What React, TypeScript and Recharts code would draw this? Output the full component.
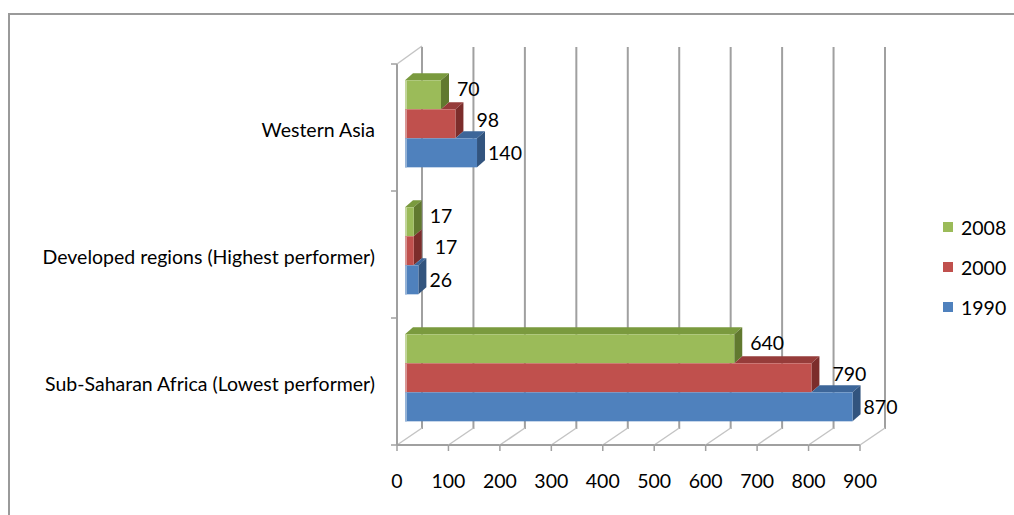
import React from 'react';
import { BarChart, Bar, XAxis, YAxis, CartesianGrid, LabelList, Legend } from 'recharts';

// ---------- data ----------
const CATEGORIES = [
  'Western Asia',
  'Developed regions (Highest performer)',
  'Sub-Saharan Africa (Lowest performer)',
];
const V2008 = [70, 17, 640];
const V2000 = [98, 17, 790];
const V1990 = [140, 26, 870];
const X_TICKS = [0, 100, 200, 300, 400, 500, 600, 700, 800, 900];
const SERIES_NAMES = ['2008', '2000', '1990'];

const data = CATEGORIES.map((name, i) => ({
  name,
  v2008: V2008[i],
  v2000: V2000[i],
  v1990: V1990[i],
}));

// ---------- layout ----------
const W = 1014;
const H = 515;
const PLOT_L = 405;
const PLOT_R = 868;
const PLOT_T = 60;
const PLOT_B = 441;
const PLOT_W = PLOT_R - PLOT_L;
const PLOT_H = PLOT_B - PLOT_T;
const LEGEND_W = 70;
const FONT = 'Lato, "Open Sans", sans-serif';
const FS = 19.5;

// 3D planes relative to the bar plane
const FRONT_DX = -8;
const FRONT_DY = 4;
const BACK_DX = 17;
const BACK_DY = -13;
const DEPTH_X = 8;
const DEPTH_Y = -7;
const AXIS_COLOR = '#a0a0a0';
const FLOOR_COLOR = '#c4c4c4';

const COLORS = {
  v2008: { front: '#9BBB59', top: '#7A9A3E', side: '#61792F', edge: '#C3D69B' },
  v2000: { front: '#C0504D', top: '#963C3A', side: '#7C2D2B', edge: '#D99694' },
  v1990: { front: '#4F81BD', top: '#3D6699', side: '#32547E', edge: '#95B3D7' },
};

const SERIES = [
  { key: 'v2008', name: SERIES_NAMES[0], above: null as string | null, ldx: 16, ldy: -6 },
  { key: 'v2000', name: SERIES_NAMES[1], above: 'v2008', ldx: 21, ldy: -4 },
  { key: 'v1990', name: SERIES_NAMES[2], above: 'v2000', ldx: 11, ldy: 0 },
];

const makeShape = (key: string, above: string | null) => (props: any) => {
  const { x, y, width, height, payload } = props;
  if (width == null || height == null || isNaN(x) || isNaN(y)) return null;
  const c = (COLORS as any)[key];
  const own = payload[key];
  let xs = x;
  if (above && own > 0) {
    const aboveLen = (width * payload[above]) / own;
    xs = x + aboveLen;
  }
  const r = x + width;
  const topPts =
    xs < r
      ? `${xs},${y} ${xs + DEPTH_X},${y + DEPTH_Y} ${r + DEPTH_X},${y + DEPTH_Y} ${r},${y}`
      : null;
  const sidePts = `${r},${y} ${r + DEPTH_X},${y + DEPTH_Y} ${r + DEPTH_X},${y + height + DEPTH_Y} ${r},${y + height}`;
  return (
    <g>
      {topPts && <polygon points={topPts} fill={c.top} />}
      <polygon points={sidePts} fill={c.side} />
      <rect x={x} y={y} width={width} height={height} fill={c.front} />
      <rect x={x} y={y} width={2} height={height} fill={c.edge} />
    </g>
  );
};

const makeLabel = (dx: number, dy: number) => (props: any) => {
  const { x, y, width, height, value } = props;
  return (
    <text
      x={x + width + dx}
      y={y + height / 2 + dy}
      fontSize={FS}
      fontFamily={FONT}
      fill="#000"
      dominantBaseline="central"
      textAnchor="start"
    >
      {value}
    </text>
  );
};

const XTick = (props: any) => {
  const { x, payload, index } = props;
  const fx = x + FRONT_DX;
  const fy = PLOT_B + FRONT_DY;
  const step = PLOT_W / (X_TICKS.length - 1);
  const isLast = index === X_TICKS.length - 1;
  return (
    <g>
      <line x1={fx} y1={fy} x2={x + BACK_DX} y2={PLOT_B + BACK_DY} stroke={FLOOR_COLOR} strokeWidth={1.5} />
      {!isLast && <line x1={fx} y1={fy} x2={fx + step} y2={fy} stroke={AXIS_COLOR} strokeWidth={2} />}
      <line x1={fx} y1={fy} x2={fx} y2={fy + 6} stroke={AXIS_COLOR} strokeWidth={1.5} />
      <text
        x={fx}
        y={fy + 35}
        fontSize={FS}
        fontFamily={FONT}
        fill="#000"
        textAnchor="middle"
        dominantBaseline="central"
      >
        {payload.value}
      </text>
    </g>
  );
};

const YTick = (props: any) => {
  const { y, payload, index } = props;
  const band = PLOT_H / CATEGORIES.length;
  const ax = PLOT_L + FRONT_DX;
  const top = y - band / 2 + FRONT_DY;
  const bot = y + band / 2 + FRONT_DY;
  return (
    <g>
      <line x1={ax} y1={top} x2={ax} y2={bot} stroke={AXIS_COLOR} strokeWidth={2} />
      <line x1={ax - 6} y1={top} x2={ax} y2={top} stroke={AXIS_COLOR} strokeWidth={1.5} />
      {index === CATEGORIES.length - 1 && (
        <line x1={ax - 6} y1={bot} x2={ax} y2={bot} stroke={AXIS_COLOR} strokeWidth={1.5} />
      )}
      {index === 0 && (
        <line
          x1={ax}
          y1={top}
          x2={PLOT_L + BACK_DX}
          y2={PLOT_T + BACK_DY - 1}
          stroke={FLOOR_COLOR}
          strokeWidth={1.5}
        />
      )}
      <text
        x={375}
        y={y + 6}
        fontSize={FS}
        fontFamily={FONT}
        fill="#000"
        textAnchor="end"
        dominantBaseline="central"
      >
        {payload.value}
      </text>
    </g>
  );
};

const gridGen = (args: any) => {
  const xa = args && args.xAxis;
  const sc = xa && xa.scale;
  return X_TICKS.map((t) => {
    const base = typeof sc === 'function' ? sc(t) : PLOT_L + (t / 900) * PLOT_W;
    return base + BACK_DX;
  });
};

const renderLegend = () => (
  <div style={{ width: LEGEND_W, fontFamily: FONT, fontSize: FS }}>
    {SERIES.map((s) => (
      <div key={s.key} style={{ display: 'flex', alignItems: 'center', height: 40 }}>
        <div style={{ width: 10, height: 10, background: (COLORS as any)[s.key].front, marginRight: 8 }} />
        <span style={{ color: '#000' }}>{s.name}</span>
      </div>
    ))}
  </div>
);

export default function App() {
  return (
    <div style={{ position: 'fixed', left: 0, top: 0, width: W, height: H, background: '#fff', overflow: 'hidden' }}>
      <div
        style={{
          position: 'absolute',
          left: 8,
          top: 13,
          right: 0,
          bottom: 0,
          borderTop: '2px solid #9a9a9a',
          borderLeft: '2px solid #9a9a9a',
          boxSizing: 'border-box',
        }}
      />
      <div style={{ position: 'absolute', left: 0, top: 0 }}>
        <BarChart
          width={W}
          height={H}
          data={data}
          layout="vertical"
          margin={{ top: PLOT_T, right: W - PLOT_R - LEGEND_W, bottom: 0, left: 0 }}
          barCategoryGap="16%"
          barGap={0}
        >
          <CartesianGrid
            horizontal={false}
            vertical
            stroke={AXIS_COLOR}
            strokeWidth={2}
            y={PLOT_T + BACK_DY}
            height={PLOT_H + 1}
            verticalCoordinatesGenerator={gridGen}
          />
          <XAxis
            type="number"
            domain={[0, 900]}
            ticks={X_TICKS}
            interval={0}
            height={H - PLOT_B}
            axisLine={false}
            tickLine={false}
            tick={<XTick />}
            allowDataOverflow
          />
          <YAxis
            type="category"
            dataKey="name"
            width={PLOT_L}
            axisLine={false}
            tickLine={false}
            interval={0}
            tick={<YTick />}
          />
          <Legend
            layout="vertical"
            align="right"
            verticalAlign="top"
            content={renderLegend}
            wrapperStyle={{ position: 'absolute', left: 943, top: 207, width: LEGEND_W }}
          />
          {SERIES.map((s) => (
            <Bar
              key={s.key}
              dataKey={s.key}
              name={s.name}
              fill={(COLORS as any)[s.key].front}
              isAnimationActive={false}
              shape={makeShape(s.key, s.above)}
            >
              <LabelList dataKey={s.key} content={makeLabel(s.ldx, s.ldy)} />
            </Bar>
          ))}
        </BarChart>
      </div>
    </div>
  );
}
